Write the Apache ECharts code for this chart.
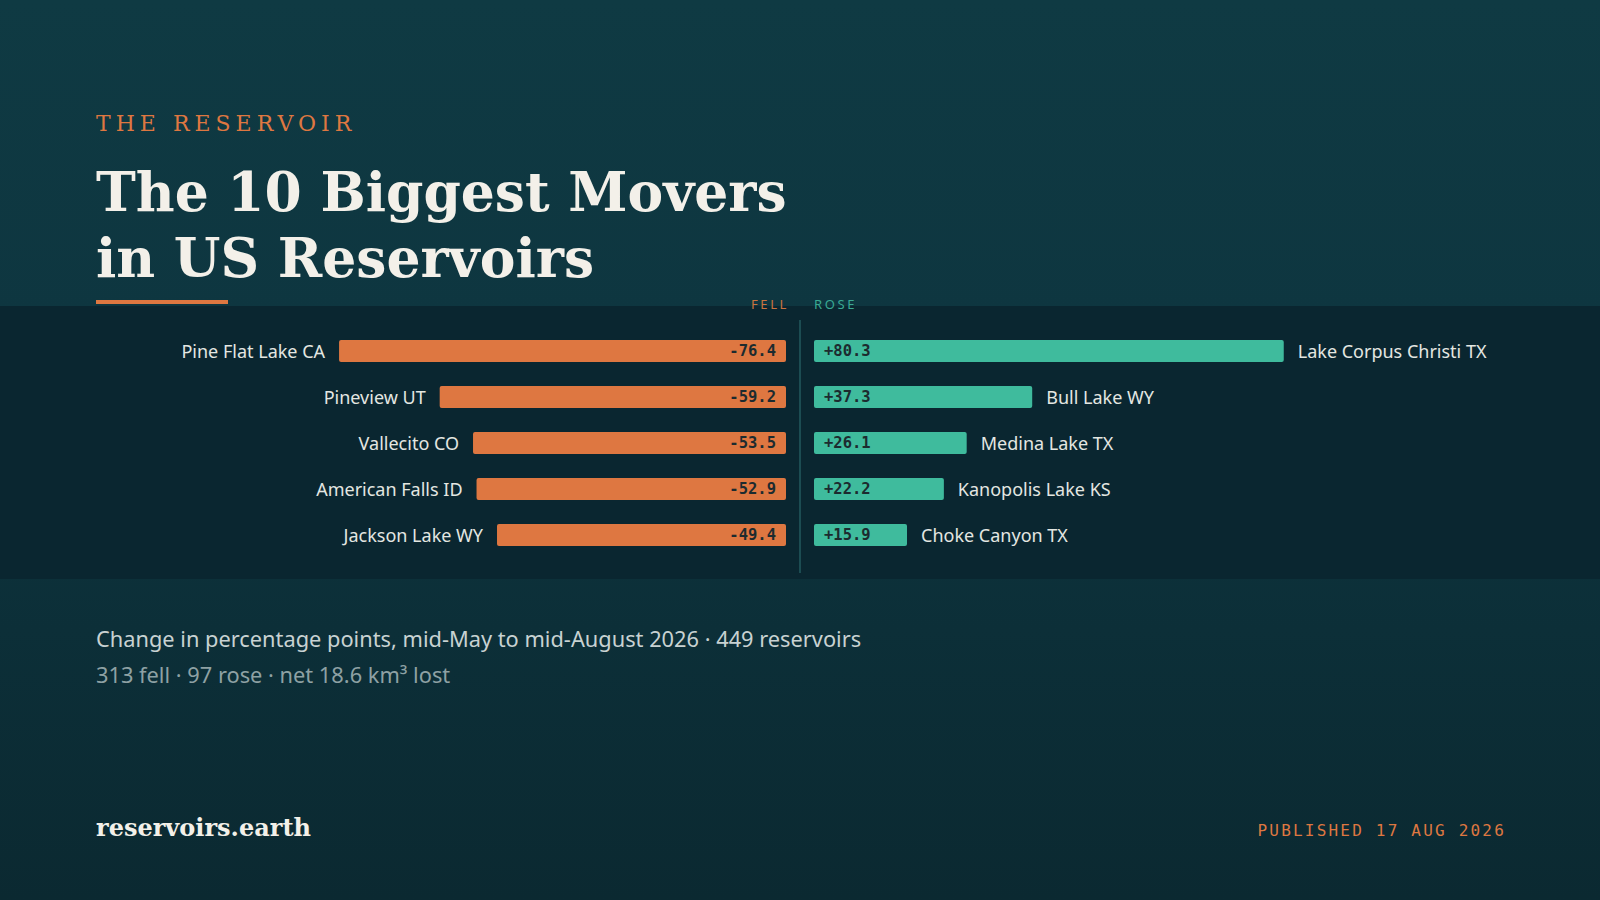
<!DOCTYPE html>
<html>
<head>
<meta charset="utf-8">
<script src="https://cdn.jsdelivr.net/npm/echarts@6/dist/echarts.min.js"></script>
<style>
html,body{margin:0;padding:0;background:#0d3039;}
#chart{width:1600px;height:900px;}
text[style*="LSkicker"]{letter-spacing:5px;}
text[style*="LSsmall"]{letter-spacing:2.6px;}
text[style*="LSfoot"]{letter-spacing:2.2px;}
</style>
</head>
<body>
<div id="chart"></div>
<script>
// ---- data ----
const fellNames = ['Pine Flat Lake CA', 'Pineview UT', 'Vallecito CO', 'American Falls ID', 'Jackson Lake WY'];
const fellValues = [-76.4, -59.2, -53.5, -52.9, -49.4];
const roseNames = ['Lake Corpus Christi TX', 'Bull Lake WY', 'Medina Lake TX', 'Kanopolis Lake KS', 'Choke Canyon TX'];
const roseValues = [80.3, 37.3, 26.1, 22.2, 15.9];
const axisMax = 90;

// ---- text ----
const kicker = 'THE RESERVOIR';
const titleLines = ['The 10 Biggest Movers', 'in US Reservoirs'];
const fellHeader = 'FELL';
const roseHeader = 'ROSE';
const subtitle1 = 'Change in percentage points, mid-May to mid-August 2026 \u00b7 449 reservoirs';
const subtitle2 = '313 fell \u00b7 97 rose \u00b7 net 18.6 km\u00b3 lost';
const footerLeft = 'reservoirs.earth';
const footerRight = 'PUBLISHED 17 AUG 2026';

// ---- style ----
const ORANGE = '#de7741';
const TEAL = '#3fbb9d';
const SERIF = "'DejaVu Serif', serif";
const SANS = "'Noto Sans', 'Open Sans', sans-serif";
const MONO = "'DejaVu Sans Mono', monospace";

const chart = echarts.init(document.getElementById('chart'), null, {renderer: 'svg', width: 1600, height: 900});

const gridTop = 328, gridHeight = 230;

const valueLabelStyle = {
  fontFamily: MONO, fontWeight: 'bold', fontSize: 15.5, color: '#1c2b2f'
};
const nameLabelStyle = {
  fontFamily: SANS, fontSize: 18, color: '#e4e7e2'
};

const option = {
  animation: false,
  tooltip: {show: false},
  grid: [
    {left: 259.5, right: 814, top: gridTop, height: gridHeight},
    {left: 814, right: 259.5, top: gridTop, height: gridHeight}
  ],
  xAxis: [
    {gridIndex: 0, type: 'value', min: -axisMax, max: 0, show: false},
    {gridIndex: 1, type: 'value', min: 0, max: axisMax, show: false}
  ],
  yAxis: [
    {gridIndex: 0, type: 'category', data: fellNames, inverse: true, show: false},
    {gridIndex: 1, type: 'category', data: roseNames, inverse: true, show: false}
  ],
  series: [
    {
      name: 'fell', type: 'bar', xAxisIndex: 0, yAxisIndex: 0, data: fellValues,
      barWidth: 22, silent: true,
      itemStyle: {color: ORANGE, borderRadius: 2},
      label: Object.assign({show: true, position: 'insideRight', distance: 10,
        formatter: p => p.value.toFixed(1)}, valueLabelStyle)
    },
    {
      name: 'fellNames', type: 'bar', xAxisIndex: 0, yAxisIndex: 0, data: fellValues,
      barWidth: 22, barGap: '-100%', silent: true,
      itemStyle: {color: 'rgba(0,0,0,0)'},
      label: Object.assign({show: true, position: 'left', distance: 14,
        formatter: p => p.name}, nameLabelStyle)
    },
    {
      name: 'rose', type: 'bar', xAxisIndex: 1, yAxisIndex: 1, data: roseValues,
      barWidth: 22, silent: true,
      itemStyle: {color: TEAL, borderRadius: 2},
      label: Object.assign({show: true, position: 'insideLeft', distance: 10,
        formatter: p => '+' + p.value.toFixed(1)}, valueLabelStyle)
    },
    {
      name: 'roseNames', type: 'bar', xAxisIndex: 1, yAxisIndex: 1, data: roseValues,
      barWidth: 22, barGap: '-100%', silent: true,
      itemStyle: {color: 'rgba(0,0,0,0)'},
      label: Object.assign({show: true, position: 'right', distance: 14,
        formatter: p => p.name}, nameLabelStyle)
    }
  ],
  graphic: [
    {type: 'rect', z: -10, silent: true, shape: {x: 0, y: 0, width: 1600, height: 900},
      style: {fill: {type: 'linear', x: 0, y: 0, x2: 0, y2: 1, colorStops: [
        {offset: 0, color: '#0f3a43'}, {offset: 0.35, color: '#0e3640'},
        {offset: 0.7, color: '#0c2f38'}, {offset: 1, color: '#0b2931'}]}}},
    {type: 'rect', z: -9, silent: true, shape: {x: 0, y: 306, width: 1600, height: 273},
      style: {fill: '#0a2630'}},
    {type: 'text', silent: true, x: 96, y: 123.5,
      style: {text: kicker, fill: ORANGE, fontFamily: "LSkicker, " + SERIF, fontSize: 22,
        verticalAlign: 'middle', align: 'left'}},
    {type: 'text', silent: true, x: 96, y: 192,
      style: {text: titleLines[0], fill: '#f3f0e9', fontFamily: SERIF, fontWeight: 'bold', fontSize: 53.5,
        verticalAlign: 'middle', align: 'left'}},
    {type: 'text', silent: true, x: 96, y: 258,
      style: {text: titleLines[1], fill: '#f3f0e9', fontFamily: SERIF, fontWeight: 'bold', fontSize: 53.5,
        verticalAlign: 'middle', align: 'left'}},
    {type: 'rect', silent: true, shape: {x: 96, y: 300, width: 132, height: 4},
      style: {fill: ORANGE}},
    {type: 'text', silent: true, x: 789, y: 304,
      style: {text: fellHeader, fill: '#c9743f', fontFamily: "LSsmall, " + SANS, fontSize: 13,
        verticalAlign: 'middle', align: 'right'}},
    {type: 'text', silent: true, x: 814, y: 304,
      style: {text: roseHeader, fill: '#3aa993', fontFamily: "LSsmall, " + SANS, fontSize: 13,
        verticalAlign: 'middle', align: 'left'}},
    {type: 'line', silent: true, shape: {x1: 800, y1: 320, x2: 800, y2: 573},
      style: {stroke: '#235a5e', lineWidth: 1.5}},
    {type: 'text', silent: true, x: 96, y: 638,
      style: {text: subtitle1, fill: '#c8d2d2', fontFamily: SANS, fontSize: 21.8,
        verticalAlign: 'middle', align: 'left'}},
    {type: 'text', silent: true, x: 96, y: 674,
      style: {text: subtitle2, fill: '#8ea1a4', fontFamily: SANS, fontSize: 21.8,
        verticalAlign: 'middle', align: 'left'}},
    {type: 'text', silent: true, x: 96, y: 827,
      style: {text: footerLeft, fill: '#f3f0e9', fontFamily: SERIF, fontWeight: 'bold', fontSize: 24,
        verticalAlign: 'middle', align: 'left'}},
    {type: 'text', silent: true, x: 1506, y: 830,
      style: {text: footerRight, fill: ORANGE, fontFamily: "LSfoot, " + MONO, fontSize: 16,
        verticalAlign: 'middle', align: 'right'}}
  ]
};
chart.setOption(option);
</script>
</body>
</html>
